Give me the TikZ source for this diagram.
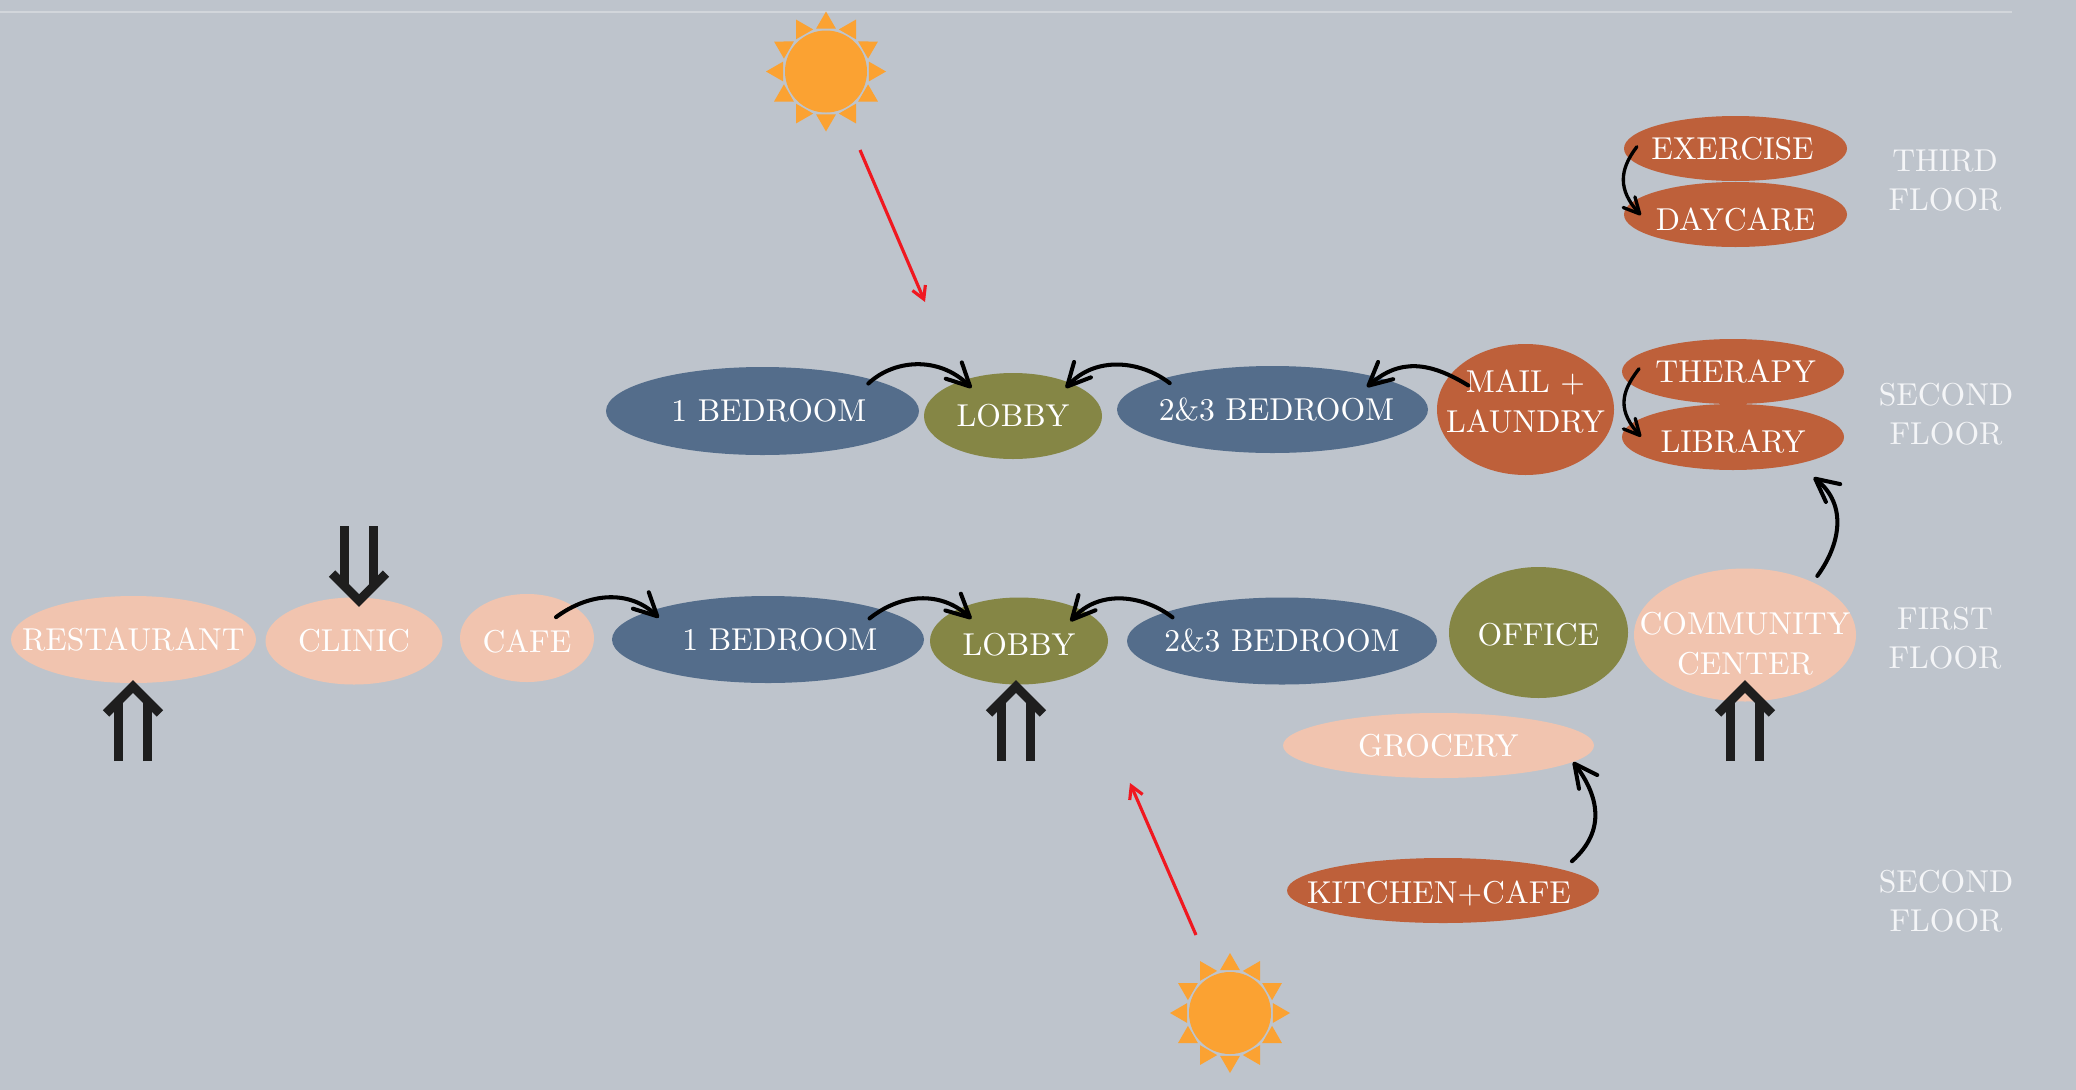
\documentclass[tikz,border=0pt]{standalone}
\usepackage{tikz}
\usetikzlibrary{shapes.geometric, arrows.meta, calc}
\definecolor{wallcol}{HTML}{BEC4CC}
\definecolor{peachcol}{HTML}{F1C4AF}
\definecolor{bluecol}{HTML}{546D8B}
\definecolor{olivecol}{HTML}{858645}
\definecolor{rustcol}{HTML}{BE603A}
\definecolor{suncol}{HTML}{FBA232}
\definecolor{raycol}{HTML}{F01820}
\definecolor{pairblack}{HTML}{1E1E1E}
\definecolor{floorcol}{HTML}{F4F5F7}
\font\roomfont=cmr10 at 18pt
\newcommand{\roomface}{\roomfont\baselineskip 22.4pt\relax}
\tikzset{
  % room ellipse, size in reference pixels
  sized/.style 2 args={minimum width=#1*0.02cm, minimum height=#2*0.02cm},
  room/.style={ellipse, draw=none, inner sep=0pt, text=white, align=center,
               font=\roomface},
  peach/.style={room, fill=peachcol},
  bluebed/.style={room, fill=bluecol},
  olive/.style={room, fill=olivecol},
  rust/.style={room, fill=rustcol},
  % floor names on the right
  floorname/.style={align=center, text=floorcol, inner sep=0pt,
                    font=\roomface},
  sunball/.style={circle, fill=suncol, inner sep=0pt, minimum size=82*0.02cm},
  flow/.style={-{Straight Barb[length=13pt,width=13pt,round]}, black,
               line width=2.3pt, line cap=round},
  flowsmall/.style={-{Straight Barb[length=9pt,width=9pt,round]}, black,
               line width=1.9pt, line cap=round},
  sunline/.style={-{Straight Barb[length=7pt,width=8pt]}, raycol, line width=1.8pt},
}
% label of no width, so that the ellipse keeps the size it is given
\newcommand{\lbl}[1]{\makebox[0pt]{#1}}
% text moved inside its ellipse
\newcommand{\dropby}[1]{\rule{0pt}{\dimexpr 12pt+#1*2\relax}}
\newcommand{\liftby}[1]{\rule[\dimexpr -#1*2\relax]{0pt}{0pt}}
% sun rays round a named ball
\newcommand{\sunrays}[1]{%
  \foreach \a in {0,30,...,330}
    \fill[suncol] ($(#1)+(\a-13:44)$) -- ($(#1)+(\a:60)$) -- ($(#1)+(\a+13:44)$) -- cycle;%
}
% double entry arrow, tail at a named coordinate; #2=1 up, #2=-1 down
\newcommand{\pairarrow}[2]{%
  \begin{scope}[shift={(#1)}, yscale=#2, pairblack, line width=9*0.02cm]
    \draw (-14.5,0) -- (-14.5,-60);
    \draw (14.5,0) -- (14.5,-60);
    \draw[miter limit=4] (-27,-47.6) -- (0,-74.6) -- (27,-47.6);
  \end{scope}%
}

\begin{document}
\begin{tikzpicture}[x=0.02cm, y=-0.02cm]
  \useasboundingbox (0,0) rectangle (2076,1089);
  \fill[wallcol] (-5,-5) rectangle (2081,1094);
  \draw[white!30!wallcol, line width=0.8pt] (0,12) -- (2012,12);

  % suns
  \node[sunball] (sunTop) at (826,71.5) {};
  \sunrays{sunTop}
  \node[sunball] (sunLow) at (1230,1013) {};
  \sunrays{sunLow}
  \coordinate (rayTopA) at (860,150);
  \coordinate (rayTopB) at (925,302);
  \coordinate (rayLowA) at (1196,935);
  \coordinate (rayLowB) at (1130,783);
  \draw[sunline] (rayTopA) -- (rayTopB);
  \draw[sunline] (rayLowA) -- (rayLowB);

  % second floor
  \node[bluebed, sized={313}{88}] (bedUpA) at (762.5,411) {\lbl{\hspace*{7.4pt}1 BEDROOM}};
  \node[olive, sized={178}{86}] (lobbyUp) at (1013,416) {\lbl{LOBBY}};
  \node[bluebed, sized={311}{87}] (bedUpB) at (1272.5,409.5) {\lbl{\hspace*{4.5pt}2\&3 BEDROOM}};
  \node[rust, sized={177}{131}] (mail) at (1525.5,409.5) {\lbl{MAIL +}\\\lbl{LAUNDRY}\liftby{4.5pt}};
  \node[rust, sized={222}{65}] (therapy) at (1733,371.5) {\lbl{\hspace*{3pt}THERAPY}};
  \node[rust, sized={222}{66}] (library) at (1733,437) {\dropby{3pt}\lbl{LIBRARY}};

  % third floor
  \node[rust, sized={223}{65}] (exercise) at (1735.5,148.5) {\lbl{\hspace*{-3.4pt}EXERCISE}};
  \node[rust, sized={223}{65}] (daycare) at (1735.5,214.5) {\dropby{3pt}\lbl{DAYCARE}};

  % first floor
  \node[peach, sized={245}{87}] (restaurant) at (133.5,639.5) {\lbl{RESTAURANT}};
  \node[peach, sized={177}{87}] (clinic) at (354,641) {\lbl{CLINIC}};
  \node[peach, sized={134}{88}] (cafe) at (527,638) {\dropby{2.2pt}\lbl{CAFE}};
  \node[bluebed, sized={312}{87}] (bedLowA) at (768,639.5) {\lbl{\hspace*{13.6pt}1 BEDROOM}};
  \node[olive, sized={178}{87}] (lobbyLow) at (1019,641) {\dropby{2.2pt}\lbl{LOBBY}};
  \node[bluebed, sized={310}{87}] (bedLowB) at (1282,641) {\lbl{2\&3 BEDROOM}};
  \node[olive, sized={179}{131}] (office) at (1538.5,632.5) {\dropby{1.4pt}\lbl{OFFICE}};
  \node[peach, sized={222}{133}] (community) at (1745,635) {\dropby{5pt}\lbl{COMMUNITY}\\\lbl{CENTER}};
  \node[peach, sized={311}{65}] (grocery) at (1438.5,745.5) {\lbl{GROCERY}};
  \node[rust, sized={312}{65}] (kitchen) at (1443,890.5) {\dropby{2.2pt}\lbl{\hspace*{-4.5pt}KITCHEN+CAFE}};

  % floor names
  \node[floorname] (thirdname) at (1945,180) {THIRD\\FLOOR};
  \node[floorname] (secondname) at (1946,414) {SECOND\\FLOOR};
  \node[floorname] (firstname) at (1945,638) {FIRST\\FLOOR};
  \node[floorname] (kitchenname) at (1946,901) {SECOND\\FLOOR};

  % flows
  \draw[flow, shorten <=-3.4pt, shorten >=-6.5pt] (bedUpA.16) .. controls (893,360) and (938,355) .. (lobbyUp.144);
  \draw[flow, shorten <=-4.6pt, shorten >=-4pt] (bedUpB.164) .. controls (1140,360) and (1095,356) .. (lobbyUp.30);
  \draw[flow, shorten <=-12pt, shorten >=-8.4pt] (mail.155) .. controls (1430,362) and (1400,358) .. (bedUpB.17);
  \draw[flow, shorten <=-8.4pt, shorten >=-9pt] (bedLowA.15) .. controls (900,594) and (940,590) .. (lobbyLow.151);
  \draw[flow, shorten <=-5pt, shorten >=-9pt] (bedLowB.166) .. controls (1145,596) and (1100,588) .. (lobbyLow.27);
  \draw[flow, shorten <=-11.5pt, shorten >=-6pt] (cafe.36) .. controls (590,592) and (630,590) .. (bedLowA.166);
  \draw[flowsmall, shorten <=-8pt, shorten >=-9pt] (exercise.185) .. controls (1619,170) and (1618,190) .. (daycare.174);
  \draw[flowsmall, shorten <=-10pt, shorten >=-9.4pt] (therapy.186) .. controls (1619,394) and (1619,412) .. (library.173);
  \draw[flow, shorten <=4.3pt, shorten >=12pt] (community.38) .. controls (1840,545) and (1848,505) .. (library.337);
  \draw[flow, shorten <=7pt] (kitchen.10) .. controls (1607,830) and (1598,795) .. (grocery.353);

  % entrances
  \coordinate (doorRest) at (133,761);
  \coordinate (doorClinic) at (359,526);
  \coordinate (doorLobby) at (1016,761);
  \coordinate (doorComm) at (1745,761);
  \pairarrow{doorRest}{1}
  \pairarrow{doorClinic}{-1}
  \pairarrow{doorLobby}{1}
  \pairarrow{doorComm}{1}
\end{tikzpicture}
\end{document}
